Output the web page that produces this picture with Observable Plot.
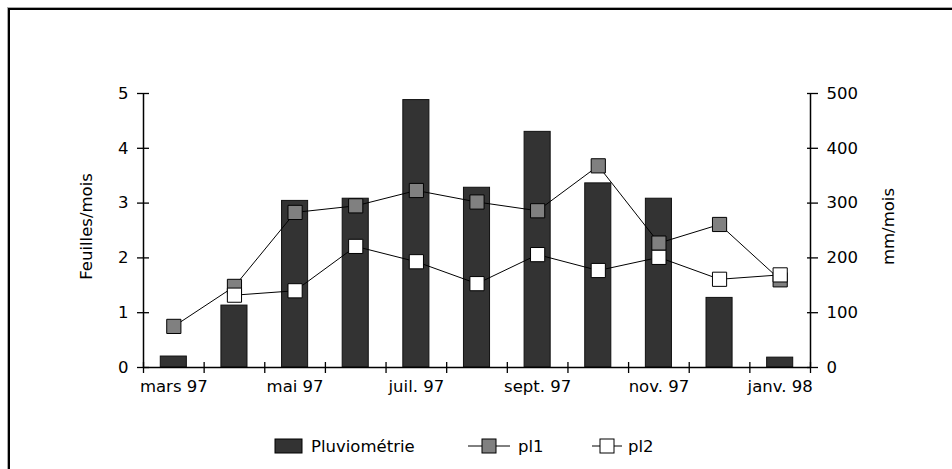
<!DOCTYPE html>
<html>
<head>
<meta charset="utf-8">
<script src="https://cdn.jsdelivr.net/npm/d3@7"></script>
<script src="https://cdn.jsdelivr.net/npm/@observablehq/plot@0.6"></script>
<style>
  html, body { margin: 0; padding: 0; background: #fff; overflow: hidden; }
  #wrap { position: relative; width: 952px; height: 469px; font-family: "DejaVu Sans", sans-serif; }
  #frame1 { position: absolute; left: 7px; top: 7px; width: 2000px; height: 2000px; border-left: 1px solid #aaa; border-top: 1px solid #aaa; }
  #frame2 { position: absolute; left: 8px; top: 8px; width: 2000px; height: 2000px; border-left: 2px solid #000; border-top: 2px solid #000; }
  #chart { position: absolute; left: 0; top: 0; }
  #legend { position: absolute; left: 0; top: 420px; }
</style>
</head>
<body>
<div id="wrap">
  <div id="frame1"></div>
  <div id="frame2"></div>
  <div id="chart"></div>
  <div id="legend"></div>
</div>
<script>
// ---- Data ----
const months = ["mars 97","avr. 97","mai 97","juin 97","juil. 97","août 97","sept. 97","oct. 97","nov. 97","déc. 97","janv. 98"];
const xTickLabels = ["mars 97","mai 97","juil. 97","sept. 97","nov. 97","janv. 98"];
const rain = [20, 113, 304, 308, 488, 328, 430, 336, 308, 127, 18];          // mm/mois (right axis)
const pl1 = [0.75, 1.48, 2.83, 2.95, 3.23, 3.02, 2.86, 3.68, 2.27, 2.61, 1.60]; // Feuilles/mois
const pl2 = [null, 1.32, 1.40, 2.21, 1.93, 1.53, 2.06, 1.77, 2.01, 1.61, 1.69]; // Feuilles/mois
const leftTicks = [0, 1, 2, 3, 4, 5];
const rightTicks = [0, 100, 200, 300, 400, 500];
const seriesNames = ["Pluviométrie", "pl1", "pl2"];

// ---- Derived tables ----
const rainData = months.map((m, i) => ({i, m, v: rain[i]}));
const pl1Data = months.map((m, i) => ({i, m, v: pl1[i]})).filter(d => d.v != null);
const pl2Data = months.map((m, i) => ({i, m, v: pl2[i]})).filter(d => d.v != null);
const ratio = rightTicks[rightTicks.length - 1] / leftTicks[leftTicks.length - 1]; // 100
const half = 0.215;
const FS = 16.5;

const chart = Plot.plot({
  width: 952,
  height: 420,
  marginTop: 93,
  marginBottom: 53,
  marginLeft: 143,
  marginRight: 142,
  x: {domain: [0, months.length], axis: null},
  y: {domain: [0, 5], axis: null},
  style: {fontFamily: "DejaVu Sans", fontSize: FS + "px", color: "#000", background: "transparent"},
  marks: [
    Plot.rectY(rainData, {x1: d => d.i + 0.5 - half, x2: d => d.i + 0.5 + half, y1: 0, y2: d => d.v / ratio,
      fill: "#333333", stroke: "#111", strokeWidth: 1}),
    Plot.ruleY([0], {stroke: "#000", strokeWidth: 1.5}),
    Plot.ruleX([0, months.length], {stroke: "#000", strokeWidth: 1.5}),
    Plot.axisX(d3.range(months.length + 1), {tickSize: 11, dy: -5, tickFormat: () => "", strokeWidth: 1.3}),
    Plot.axisX(xTickLabels.map(l => months.indexOf(l) + 0.5), {tickSize: 0, tickPadding: 13, fontSize: FS,
      tickFormat: d => months[Math.round(d - 0.5)]}),
    Plot.axisY(leftTicks, {anchor: "left", tickSize: 12, dx: 6, tickPadding: 9, fontSize: FS, label: null,
      strokeWidth: 1.3, tickFormat: d => String(d)}),
    Plot.axisY(rightTicks.map(v => v / ratio), {anchor: "right", tickSize: 11, dx: -4, tickPadding: 9, fontSize: FS,
      label: null, strokeWidth: 1.3, tickFormat: d => String(Math.round(d * ratio))}),
    Plot.text(["Feuilles/mois"], {frameAnchor: "left", textAnchor: "middle", rotate: -90, dx: -57, dy: -4, fontSize: FS}),
    Plot.text(["mm/mois"], {frameAnchor: "right", textAnchor: "middle", rotate: -90, dx: 78, dy: -4, fontSize: FS}),
    Plot.lineY(pl1Data, {x: d => d.i + 0.5, y: "v", stroke: "#000", strokeWidth: 1}),
    Plot.dot(pl1Data, {x: d => d.i + 0.5, y: "v", symbol: "square", r: 8, fill: "#808080", stroke: "#000", strokeWidth: 1}),
    Plot.lineY(pl2Data, {x: d => d.i + 0.5, y: "v", stroke: "#000", strokeWidth: 1}),
    Plot.dot(pl2Data, {x: d => d.i + 0.5, y: "v", symbol: "square", r: 8, fill: "#ffffff", stroke: "#000", strokeWidth: 1})
  ]
});
document.getElementById("chart").appendChild(chart);

// ---- Legend ----
const lg = d3.select("#legend").append("svg").attr("width", 952).attr("height", 49)
  .style("font-family", "DejaVu Sans").style("font-size", FS + "px");
const cy = 26;
lg.append("rect").attr("x", 275).attr("y", cy - 7).attr("width", 27).attr("height", 14)
  .attr("fill", "#333333").attr("stroke", "#000");
lg.append("text").attr("x", 311).attr("y", cy + 5.5).text(seriesNames[0]);
const items = [
  {x0: 468, x1: 510, fill: "#808080", tx: 518, name: seriesNames[1]},
  {x0: 592, x1: 622, fill: "#ffffff", tx: 628, name: seriesNames[2]}
];
for (const it of items) {
  const c = (it.x0 + it.x1) / 2;
  lg.append("line").attr("x1", it.x0).attr("x2", it.x1).attr("y1", cy).attr("y2", cy).attr("stroke", "#000");
  lg.append("rect").attr("x", c - 7).attr("y", cy - 7).attr("width", 14).attr("height", 14)
    .attr("fill", it.fill).attr("stroke", "#000");
  lg.append("text").attr("x", it.tx).attr("y", cy + 5.5).text(it.name);
}
</script>
</body>
</html>
